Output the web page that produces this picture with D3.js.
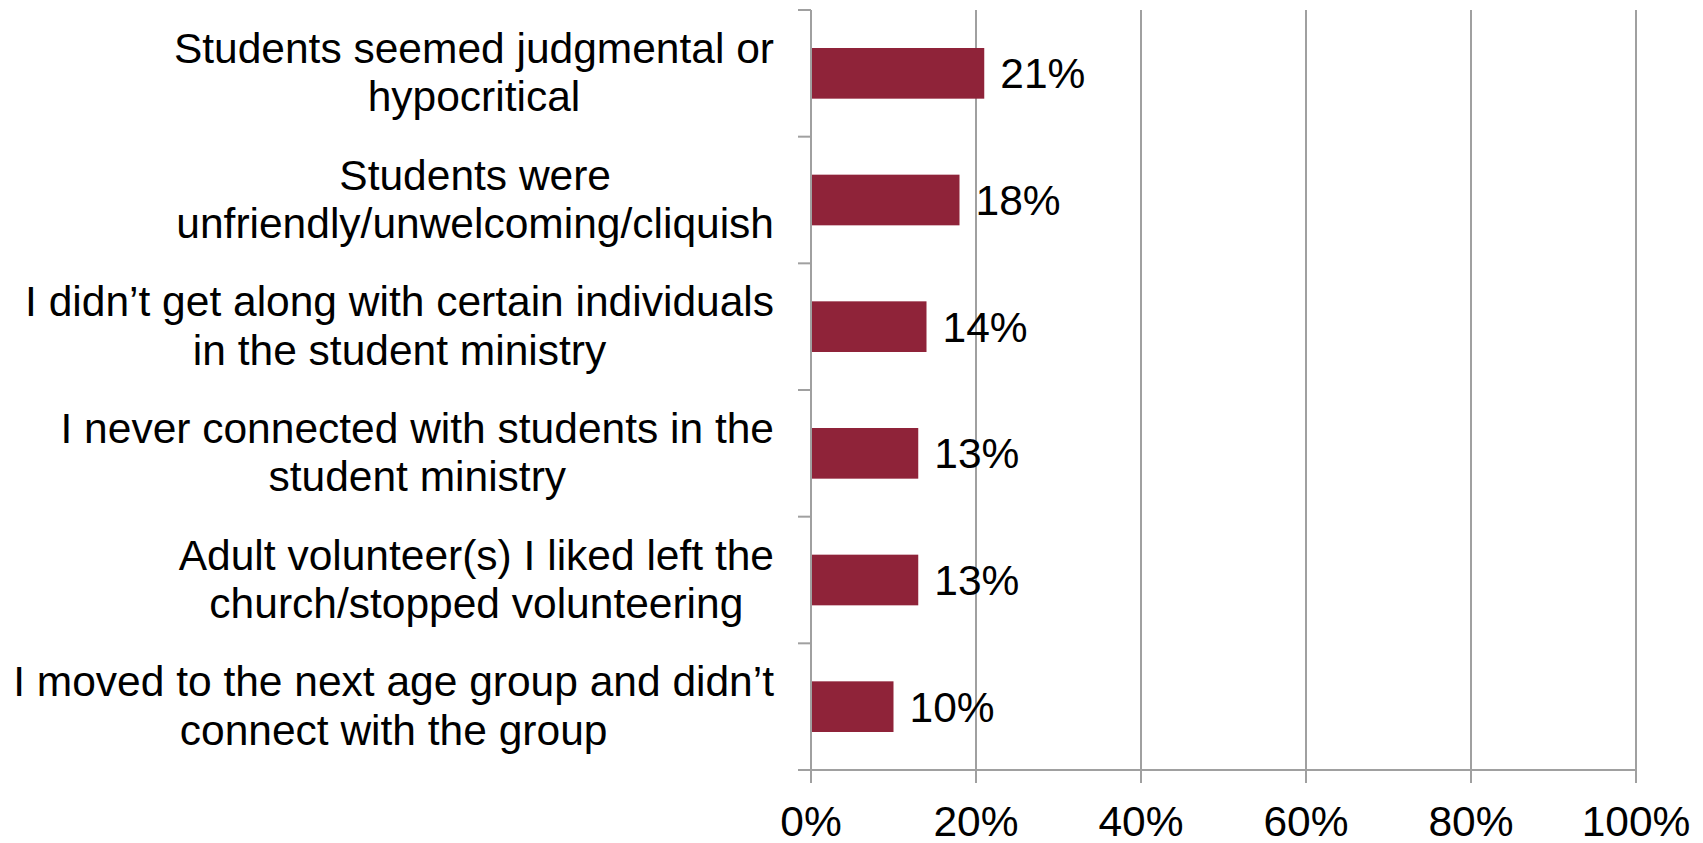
<!DOCTYPE html>
<html>
<head>
<meta charset="utf-8">
<script src="https://cdn.jsdelivr.net/npm/d3@7/dist/d3.min.js"></script>
<style>
  html, body { margin: 0; padding: 0; background: #fff; }
  svg { display: block; }
  text { font-family: "Liberation Sans", Arial, sans-serif; fill: #000; }
</style>
</head>
<body>
<svg id="chart" width="1703" height="843"></svg>
<script>
const categories = [
  ["Students seemed judgmental or", "hypocritical"],
  ["Students were", "unfriendly/unwelcoming/cliquish"],
  ["I didn\u2019t get along with certain individuals", "in the student ministry"],
  ["I never connected with students in the", "student ministry"],
  ["Adult volunteer(s) I liked left the", "church/stopped volunteering"],
  ["I moved to the next age group and didn\u2019t", "connect with the group"]
];
const values = [0.21, 0.18, 0.14, 0.13, 0.13, 0.10];
const valueLabels = ["21%", "18%", "14%", "13%", "13%", "10%"];
const xTicks = [0, 0.2, 0.4, 0.6, 0.8, 1.0];
const xTickLabels = ["0%", "20%", "40%", "60%", "80%", "100%"];

(function () {
const svg = d3.select("#chart");
const pLeft = 811, pRight = 1636, pTop = 10, pBottom = 770;
const gridColor = "#a0a0a0";
const barColor = "#8f2339";
const fontSize = 42.5;

const x = d3.scaleLinear().domain([0, 1]).range([pLeft, pRight]);
const y = d3.scaleBand().domain(d3.range(categories.length)).range([pTop, pBottom])
  .paddingInner(0.6).paddingOuter(0.3);

// gridlines (incl. tick extension below axis)
svg.append("g").selectAll("line").data(xTicks).join("line")
  .attr("x1", d => x(d)).attr("x2", d => x(d))
  .attr("y1", pTop).attr("y2", pBottom + 13)
  .attr("stroke", gridColor).attr("stroke-width", 2);

// x-axis line
svg.append("line").attr("x1", pLeft - 13).attr("x2", pRight)
  .attr("y1", pBottom).attr("y2", pBottom)
  .attr("stroke", gridColor).attr("stroke-width", 2);

// category ticks at band boundaries
const step = y.step();
const bounds = d3.range(categories.length + 1).map(i => pTop + i * step);
svg.append("g").selectAll("line").data(bounds).join("line")
  .attr("x1", pLeft - 13).attr("x2", pLeft)
  .attr("y1", d => d).attr("y2", d => d)
  .attr("stroke", gridColor).attr("stroke-width", 2);

// bars
svg.append("g").selectAll("rect").data(values).join("rect")
  .attr("x", x(0) + 1)
  .attr("y", (d, i) => y(i))
  .attr("width", d => x(d) - x(0) - 1)
  .attr("height", y.bandwidth())
  .attr("fill", barColor);

// value labels
svg.append("g").selectAll("text").data(values).join("text")
  .attr("x", d => x(d) + 16)
  .attr("y", (d, i) => y(i) + y.bandwidth() / 2 + 15)
  .attr("font-size", fontSize)
  .text((d, i) => valueLabels[i]);

// category labels: lines centred within a block whose right edge is at labelRight
const lh = 48.5;
const labelRight = 774;
const cat = svg.append("g").selectAll("text").data(categories).join("text")
  .attr("text-anchor", "middle")
  .attr("font-size", fontSize)
  .attr("y", (d, i) => y(i) + y.bandwidth() / 2 - 10.5);
cat.selectAll("tspan").data(d => d).join("tspan")
  .attr("dy", (d, j) => j === 0 ? 0 : lh)
  .text(d => d);
cat.each(function () {
  const spans = d3.select(this).selectAll("tspan");
  let maxW = 0;
  spans.each(function () { maxW = Math.max(maxW, this.getComputedTextLength()); });
  spans.attr("x", labelRight - maxW / 2);
});

// x tick labels
svg.append("g").selectAll("text").data(xTicks).join("text")
  .attr("x", d => x(d))
  .attr("y", 835.5)
  .attr("text-anchor", "middle")
  .attr("font-size", fontSize)
  .text((d, i) => xTickLabels[i]);
})();
</script>
</body>
</html>
